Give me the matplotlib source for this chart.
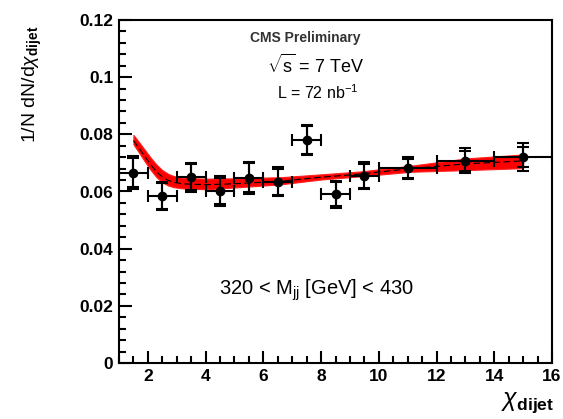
import matplotlib
matplotlib.use("Agg")
import matplotlib.pyplot as plt
import numpy as np
from matplotlib.ticker import MultipleLocator

plt.rcParams['font.family'] = ['Liberation Sans', 'DejaVu Sans']
plt.rcParams['mathtext.fontset'] = 'custom'
plt.rcParams['mathtext.rm'] = 'Liberation Sans'
plt.rcParams['mathtext.it'] = 'Liberation Sans:italic'
plt.rcParams['mathtext.bf'] = 'Liberation Sans:bold'

# data points
chi_centers = [1.5, 2.5, 3.5, 4.5, 5.5, 6.5, 7.5, 8.5, 9.5, 11.0, 13.0, 15.0]
chi_halfwidth = [0.5, 0.5, 0.5, 0.5, 0.5, 0.5, 0.5, 0.5, 0.5, 1.0, 1.0, 1.0]
values = [0.0666, 0.0584, 0.0650, 0.0602, 0.0648, 0.0634, 0.0780, 0.0590, 0.0655, 0.0681, 0.0708, 0.0720]
stat_err = [0.0052, 0.0044, 0.0046, 0.0045, 0.0050, 0.0045, 0.0048, 0.0042, 0.0042, 0.0034, 0.0035, 0.0036]
total_err = [0.0058, 0.0049, 0.0051, 0.0051, 0.0055, 0.0050, 0.0052, 0.0047, 0.0047, 0.0038, 0.0044, 0.0050]

# theory band
band_x = [1.5, 1.7, 1.9, 2.1, 2.3, 2.5, 2.7, 2.9, 3.2, 3.6, 4.1, 5.0, 6.6, 8.0, 9.35, 11.1, 13.05, 14.8, 15.0]
band_hi = [0.0798, 0.0772, 0.0745, 0.0718, 0.0694, 0.0675, 0.0662, 0.0654, 0.0648, 0.0646, 0.0645, 0.0646, 0.0650,
           0.0660, 0.0670, 0.0690, 0.0716, 0.0728, 0.0729]
band_lo = [0.0765, 0.0735, 0.0704, 0.0675, 0.0650, 0.0632, 0.0621, 0.0615, 0.0611, 0.0609, 0.0608, 0.0614, 0.0625,
           0.0642, 0.0653, 0.0669, 0.0675, 0.0681, 0.0682]
central = [0.0778, 0.0751, 0.0722, 0.0694, 0.0669, 0.0651, 0.0639, 0.0632, 0.0627, 0.0625, 0.0624, 0.0627, 0.0636,
           0.0650, 0.0661, 0.0680, 0.0697, 0.0706, 0.0707]

fig = plt.figure(figsize=(5.63, 4.19), dpi=100)
ax = fig.add_axes([119/563, 1-363/419, (552-119)/563, (363-20)/419])

ax.fill_between(band_x, band_lo, band_hi, color='#ff0000', lw=0.8, edgecolor='#ff2020', zorder=1)
ax.plot(band_x, central, color='black', lw=0.8, ls=(0, (6, 3)), zorder=2)

ax.errorbar(chi_centers, values, xerr=chi_halfwidth, yerr=total_err, fmt='none',
            ecolor='black', elinewidth=1.5, capsize=4, capthick=1.5, zorder=3)
ax.errorbar(chi_centers, values, yerr=stat_err, fmt='o', color='black', ms=6,
            ecolor='black', elinewidth=1.5, capsize=4, capthick=1.5, zorder=4)

ax.set_xlim(1, 16)
ax.set_ylim(0, 0.12)
ax.xaxis.set_major_locator(MultipleLocator(2))
ax.xaxis.set_minor_locator(MultipleLocator(0.5))
ax.yaxis.set_major_locator(MultipleLocator(0.02))
ax.yaxis.set_minor_locator(MultipleLocator(0.004))
ax.tick_params(which='both', direction='in', top=False, right=False, width=1.5)
ax.tick_params(which='major', length=9, labelsize=12.5, pad=4)
ax.tick_params(which='minor', length=5)
ax.set_yticks([0, 0.02, 0.04, 0.06, 0.08, 0.1, 0.12])
ax.set_yticklabels(['0', '0.02', '0.04', '0.06', '0.08', '0.1', '0.12'])
for lab in ax.get_xticklabels() + ax.get_yticklabels():
    lab.set_fontweight('bold')
for s in ax.spines.values():
    s.set_linewidth(1.5)

ax.text(0.431, 0.948, 'CMS Preliminary', transform=ax.transAxes, fontsize=10,
        fontweight='bold', color='#333333', ha='center', va='center')
ax.text(0.455, 0.869, r'$\sqrt{\mathrm{s}}$ = 7 TeV', transform=ax.transAxes, fontsize=13,
        ha='center', va='center')
ax.text(0.46, 0.787, r'L = 72 nb$^{-1}$', transform=ax.transAxes, fontsize=11.5,
        ha='center', va='center')
ax.text(0.456, 0.213, r'320 < M$_{\mathrm{jj}}$ [GeV] < 430', transform=ax.transAxes,
        fontsize=14.5, ha='center', va='center')

fig.text(32/563, 1-84/419, r'1/N dN/d$\chi_{\mathbf{dijet}}$', rotation=90, fontsize=14,
         ha='center', va='center')
fig.text(528/563, 1-403/419, r'$\chi_{\mathbf{dijet}}$', fontsize=18, ha='center', va='center')

fig.savefig('out.png', dpi=100)
